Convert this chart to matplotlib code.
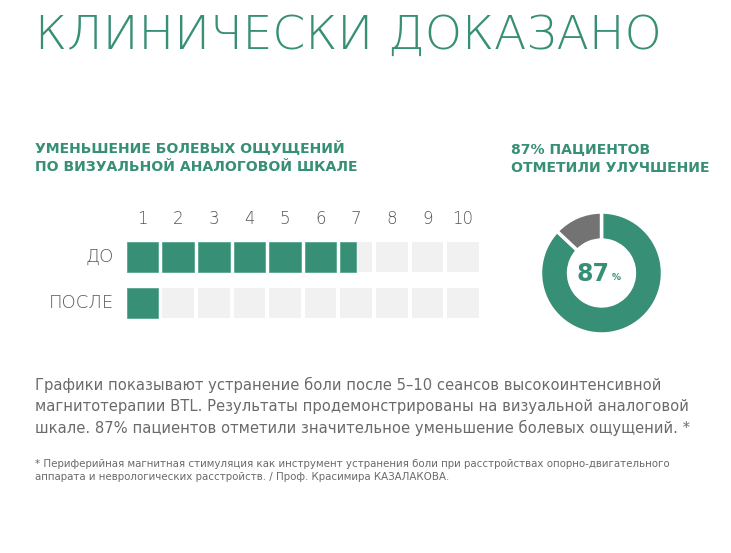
import numpy as np
import matplotlib.pyplot as plt

# data
scale = [1, 2, 3, 4, 5, 6, 7, 8, 9, 10]
rows = ['ДО', 'ПОСЛЕ']
row_values = [6.5, 1.0]
donut_values = [87, 13]

title = 'КЛИНИЧЕСКИ ДОКАЗАНО'
left_head = ['УМЕНЬШЕНИЕ БОЛЕВЫХ ОЩУЩЕНИЙ', 'ПО ВИЗУАЛЬНОЙ АНАЛОГОВОЙ ШКАЛЕ']
right_head = ['87% ПАЦИЕНТОВ', 'ОТМЕТИЛИ УЛУЧШЕНИЕ']
body = ['Графики показывают устранение боли после 5–10 сеансов высокоинтенсивной',
        'магнитотерапии BTL. Результаты продемонстрированы на визуальной аналоговой',
        'шкале. 87% пациентов отметили значительное уменьшение болевых ощущений. *']
foot = ['* Периферийная магнитная стимуляция как инструмент устранения боли при расстройствах опорно-двигательного',
        'аппарата и неврологических расстройств. / Проф. Красимира КАЗАЛАКОВА.']

GREEN = '#378f75'
CELL = '#f1f1f1'
DGRAY = '#737373'
TXT = '#6a6a6a'
FONT = ['DejaVu Sans']

W, H = 731, 553
fig = plt.figure(figsize=(W / 100, H / 100), dpi=100)
fig.patch.set_facecolor('white')

# full-figure axes in pixel coords for the text
bg = fig.add_axes([0, 0, 1, 1])
bg.set_xlim(0, W)
bg.set_ylim(H, 0)
bg.axis('off')

fig.canvas.draw()
renderer = fig.canvas.get_renderer()


def fit(s, width, **kw):
    # font size that makes s about `width` px wide
    t = bg.text(0, 0, s, fontsize=10, family=FONT, **kw)
    w = t.get_window_extent(renderer).width
    t.remove()
    return 10 * width / w


def put(x, y, s, size, **kw):
    return bg.text(x, y, s, fontsize=size, va='baseline', family=FONT, **kw)


put(35, 49, title, fit(title, 625, weight='light'), color=GREEN, weight='light')
hs = fit(left_head[0], 310, weight='bold')
put(35, 152, left_head[0], hs, color=GREEN, weight='bold')
put(35, 171, left_head[1], hs, color=GREEN, weight='bold')
put(511, 153, right_head[0], hs, color=GREEN, weight='bold')
put(511, 172, right_head[1], hs, color=GREEN, weight='bold')
bs = fit(body[0], 623)
for i, line in enumerate(body):
    put(35, 390 + i * 21.5, line, bs, color=TXT)
fs = fit(foot[0], 642)
put(35, 467, foot[0], fs, color=TXT)
put(35, 480.5, foot[1], fs, color=TXT)

# cell scale
ax = fig.add_axes([124.7 / W, 1 - 326 / H, (481.0 - 124.7) / W, 92 / H])
ax.set_xlim(0.5, 10.5)
ax.set_ylim(1.5, -0.5)
ax.axis('off')
cw, ch = 0.887, 0.665
x = np.array(scale)
for r, v in enumerate(row_values):
    ax.barh([r] * len(x), cw, left=x - cw / 2, height=ch, color=CELL)
    fill = np.clip(v - (x - 1), 0, 1) * cw
    on = fill > 0
    ax.barh([r] * on.sum(), fill[on], left=x[on] - cw / 2,
            height=ch, color=GREEN, edgecolor='#5aa88f', linewidth=0.6)
    ax.text(0.5 - 0.3, r, rows[r], ha='right', va='center', fontsize=13,
            family=FONT, weight='light', color='#555555')
for s in scale:
    ax.text(s, -0.82, str(s), ha='center', va='center', fontsize=12,
            family=FONT, weight='light', color='#555555')

# donut
cx, cy, rad = 601.5, 273, 61
dax = fig.add_axes([(cx - rad) / W, 1 - (cy + rad) / H, 2 * rad / W, 2 * rad / H])
wedges, _ = dax.pie(donut_values, colors=[GREEN, DGRAY], startangle=90,
                    counterclock=False,
                    wedgeprops=dict(width=0.46, edgecolor='white', linewidth=2.5))
dax.set_xlim(-1, 1)
dax.set_ylim(-1, 1)
dax.set_aspect('equal')
for w in wedges:
    w.set_clip_on(False)
dax.text(-0.14, -0.02, str(donut_values[0]), ha='center', va='center',
         fontsize=17, weight='bold', color=GREEN, family=FONT)
dax.text(0.24, -0.07, '%', ha='center', va='center', fontsize=6.5,
         weight='bold', color=GREEN, family=FONT)

fig.savefig('out.png', dpi=100, facecolor='white')
